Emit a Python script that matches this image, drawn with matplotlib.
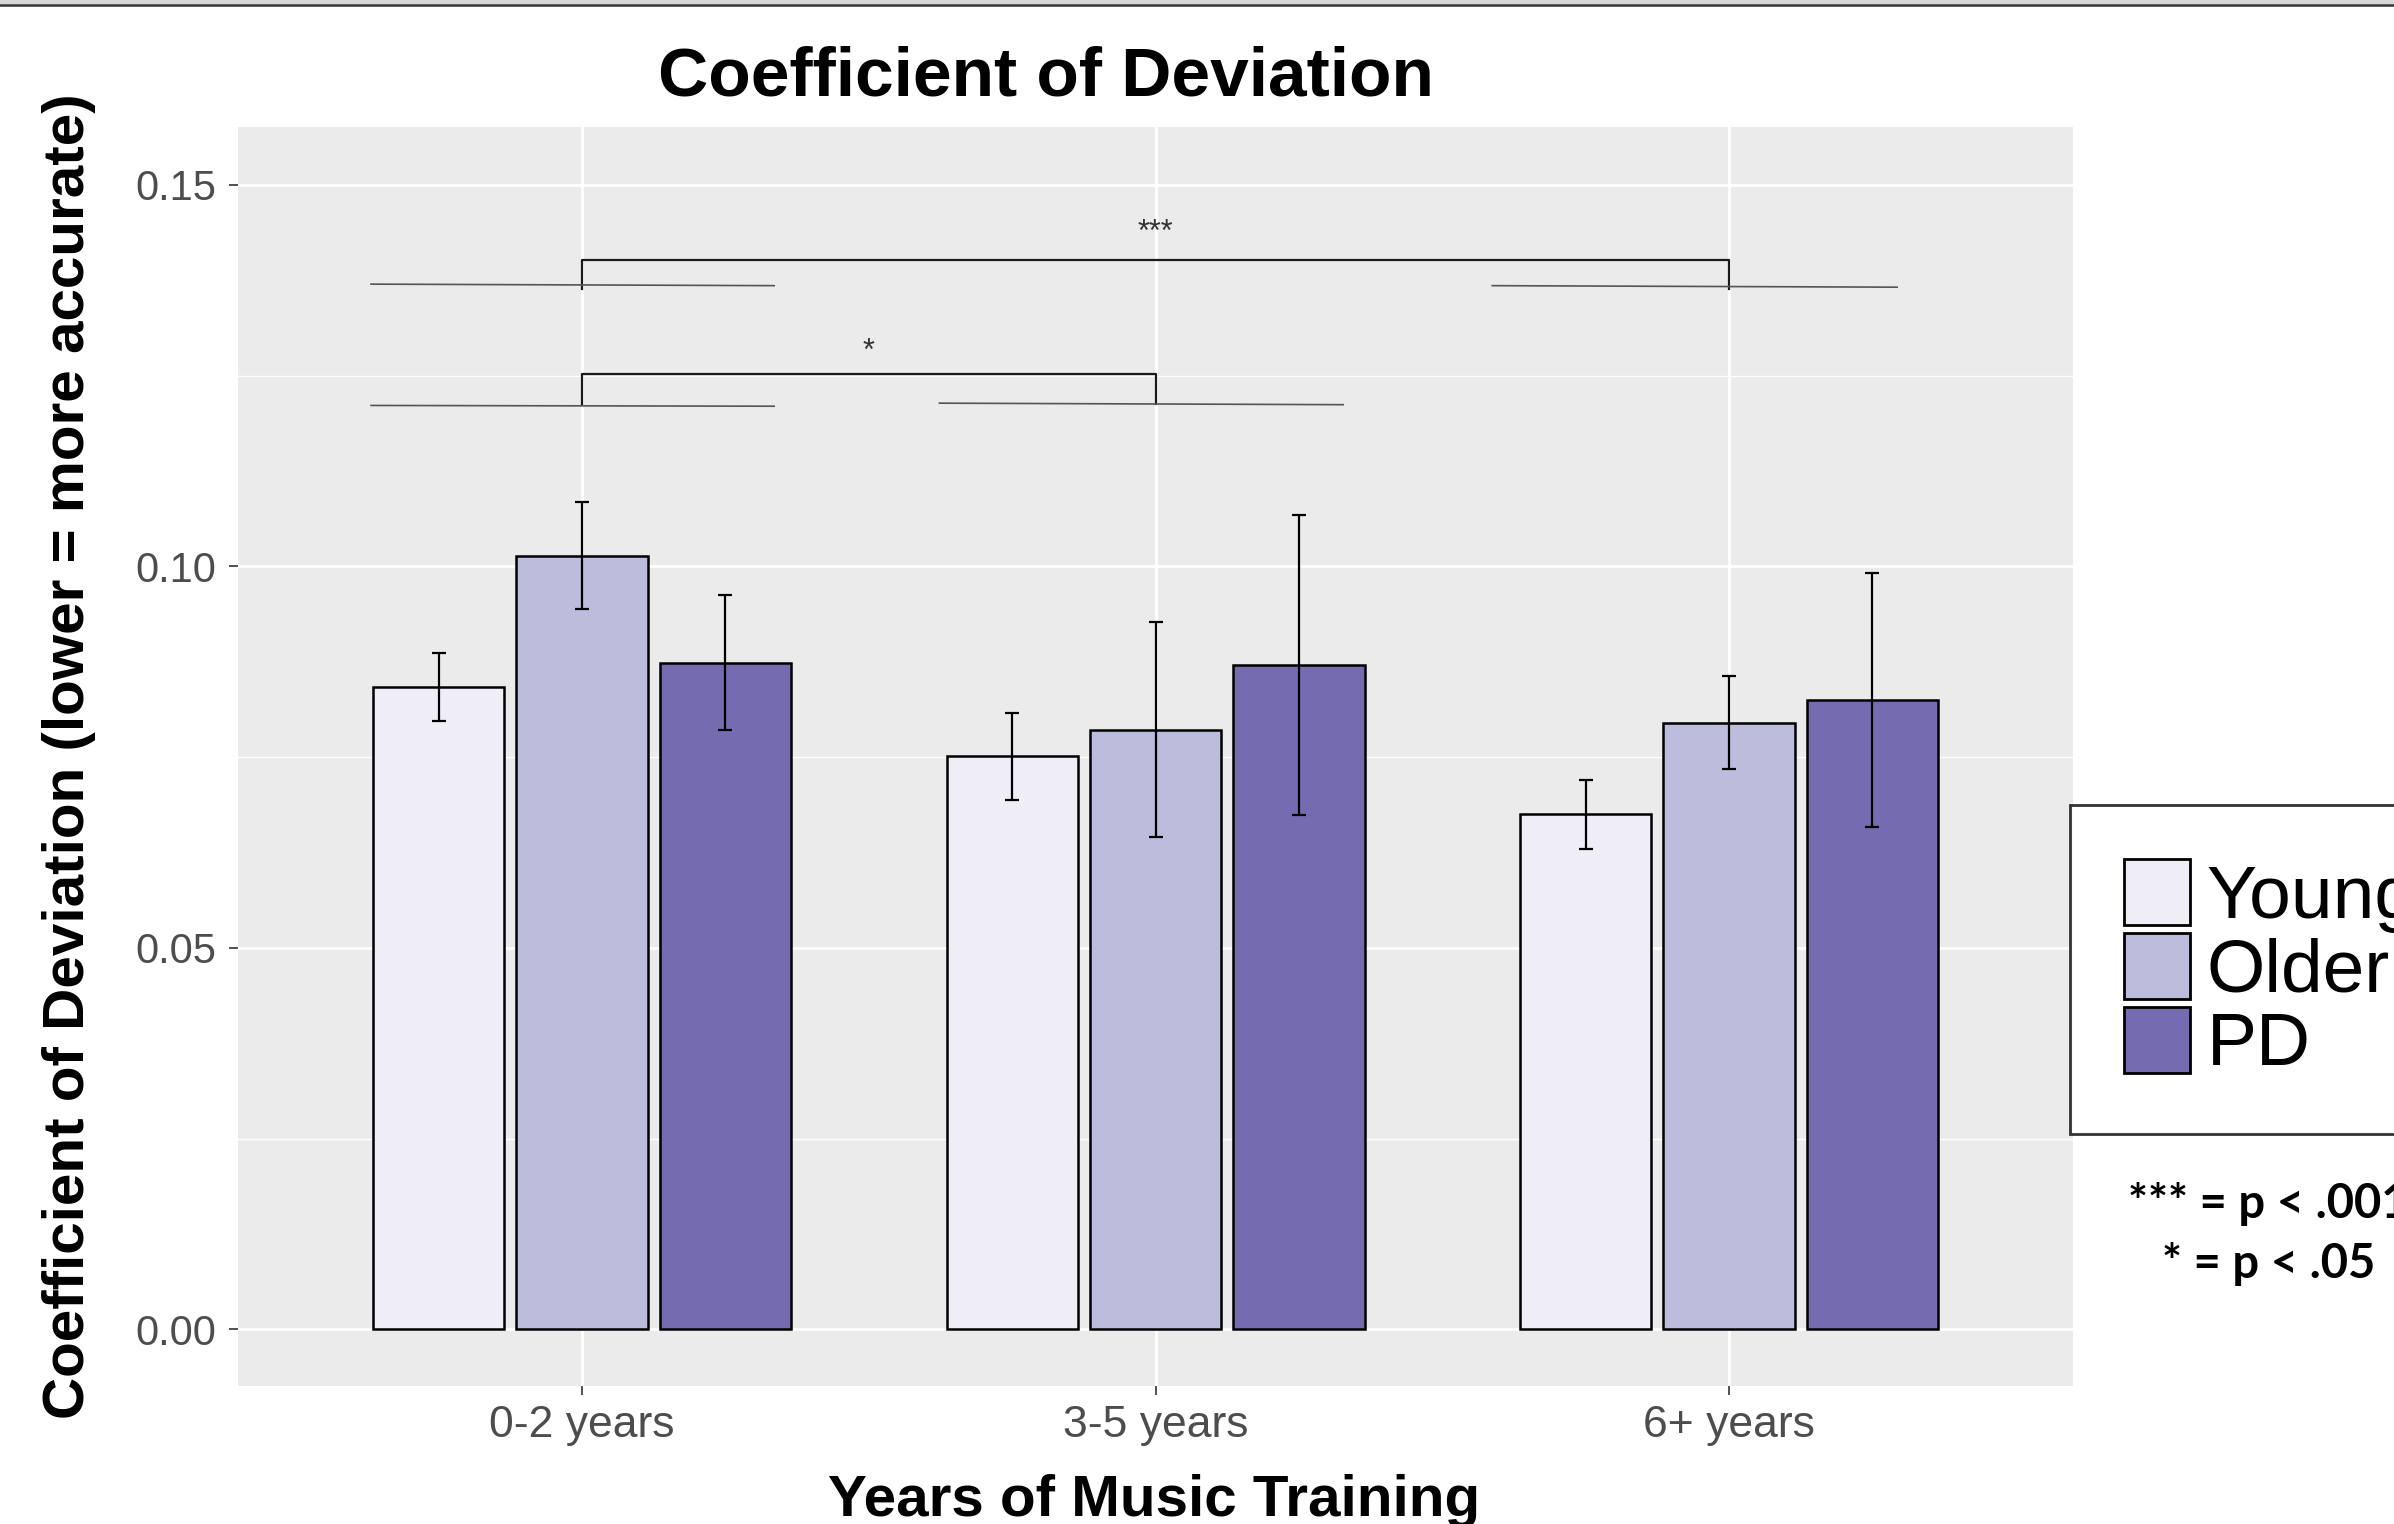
'''
Coefficient of deviation by years of music training,
grouped bars with standard error bars and significance brackets.
'''
import numpy as np
import matplotlib.pyplot as plt
from matplotlib.patches import Patch, Rectangle
from matplotlib.lines import Line2D
from matplotlib.ticker import MultipleLocator

# data ----------------------------------------------------
categories = ['0-2 years', '3-5 years', '6+ years']
groups = ['Young', 'Older', 'PD']
colors = ['#EFEDF5', '#BCBDDC', '#756BB1']

young_mean = [0.0842, 0.0751, 0.0675]
older_mean = [0.1014, 0.0786, 0.0795]
pd_mean = [0.0874, 0.0871, 0.0825]

young_se = [0.0044, 0.0057, 0.0045]
older_se = [0.0070, 0.0141, 0.0061]
pd_se = [0.0088, 0.0197, 0.0166]

# significance brackets: (from group, to group, top, tick end, label, label y)
brackets = [(0, 2, 0.1401, 0.1364, '***', 0.1437),
            (0, 1, 0.1252, 0.1213, '*', 0.1281)]

# reference lines under the brackets: (x0, x1, y0, y1)
ref_lines = [(-0.368, 0.335, 0.1370, 0.1368),
             (1.587, 2.293, 0.1368, 0.1366),
             (-0.368, 0.335, 0.1211, 0.1210),
             (0.623, 1.327, 0.1214, 0.1212)]

# plot ----------------------------------------------------
plt.rcParams['font.family'] = ['Liberation Sans', 'DejaVu Sans']

fig = plt.figure(figsize=(11.97, 7.62), dpi=200)
ax = fig.add_axes([0.0994, 0.0906, 0.7666, 0.8261])
ax.set_facecolor('#EBEBEB')

# grid:
ax.yaxis.set_major_locator(MultipleLocator(0.05))
ax.yaxis.set_minor_locator(MultipleLocator(0.025))
ax.grid(which='major', color='white', lw=1.0)
ax.grid(which='minor', axis='y', color='white', lw=0.5)
ax.set_axisbelow(True)

x = np.arange(len(categories))
step = 0.25
width = 0.229
means = [young_mean, older_mean, pd_mean]
errs = [young_se, older_se, pd_se]
for k, (m, e) in enumerate(zip(means, errs)):
    xs = x + (k - 1) * step
    ax.bar(xs, m, width, color=colors[k], edgecolor='black', lw=0.9,
           label=groups[k], zorder=2)
    ax.errorbar(xs, m, yerr=e, fmt='none', ecolor='black', elinewidth=0.8,
                capsize=2.6, capthick=0.8, zorder=3)

# brackets:
for g0, g1, top, low, label, ly in brackets:
    ax.plot([x[g0], x[g0], x[g1], x[g1]], [low, top, top, low],
            color='#1a1a1a', lw=0.8, zorder=4)
    ax.text((x[g0] + x[g1]) / 2, ly, label, ha='center', va='center',
            fontsize=11, color='#333333')
for x0, x1, y0, y1 in ref_lines:
    ax.plot([x0, x1], [y0, y1], color='#555555', lw=0.6, zorder=4)

ax.set_xlim(-0.6, 2.6)
ax.set_ylim(-0.0074, 0.1576)
ax.set_xticks(x)
ax.set_xticklabels(categories)
ax.yaxis.set_major_formatter(plt.FormatStrFormatter('%.2f'))
for s in ax.spines.values():
    s.set_visible(False)
ax.tick_params(which='major', length=3.2, width=0.6, color='#333333',
               labelsize=15, labelcolor='#4D4D4D')
ax.tick_params(axis='y', pad=4.5)
ax.tick_params(axis='x', pad=3.5, labelsize=16)
ax.tick_params(which='minor', length=0)

# titles:
fig.text(0.437, 0.949, 'Coefficient of Deviation', ha='center',
         va='center', fontsize=25, fontweight='bold')
fig.text(0.482, 0.015, 'Years of Music Training', ha='center',
         va='center', fontsize=21, fontweight='bold')
fig.text(0.0288, 0.504, 'Coefficient of Deviation (lower = more accurate)',
         ha='center', va='center', rotation=90, fontsize=21,
         fontweight='bold')

# legend:
handles = [Patch(facecolor=c, edgecolor='black', lw=1.0) for c in colors]
leg = fig.legend(handles, groups, loc='upper left',
                 bbox_to_anchor=(0.8647, 0.4718), fontsize=27,
                 frameon=True, fancybox=False, handlelength=0.88,
                 handleheight=0.98, handletextpad=0.22, labelspacing=0.0,
                 borderpad=0.72, borderaxespad=0)
leg.get_frame().set_edgecolor('black')
leg.get_frame().set_linewidth(1.0)

fig.text(0.9475, 0.1905, '*** = p < .001\n* = p < .05', ha='center',
         va='center', multialignment='center', fontsize=17,
         fontweight='bold', family=['Lato', 'DejaVu Sans'], linespacing=1.45)

# top border:
fig.add_artist(Rectangle((0, 0.9974), 1, 0.0026, transform=fig.transFigure,
                         color='#D6D6D6', lw=0))
fig.add_artist(Line2D([0, 1], [0.9967, 0.9967], transform=fig.transFigure,
                      color='#333333', lw=0.9))

plt.savefig('out.png', dpi=200)
